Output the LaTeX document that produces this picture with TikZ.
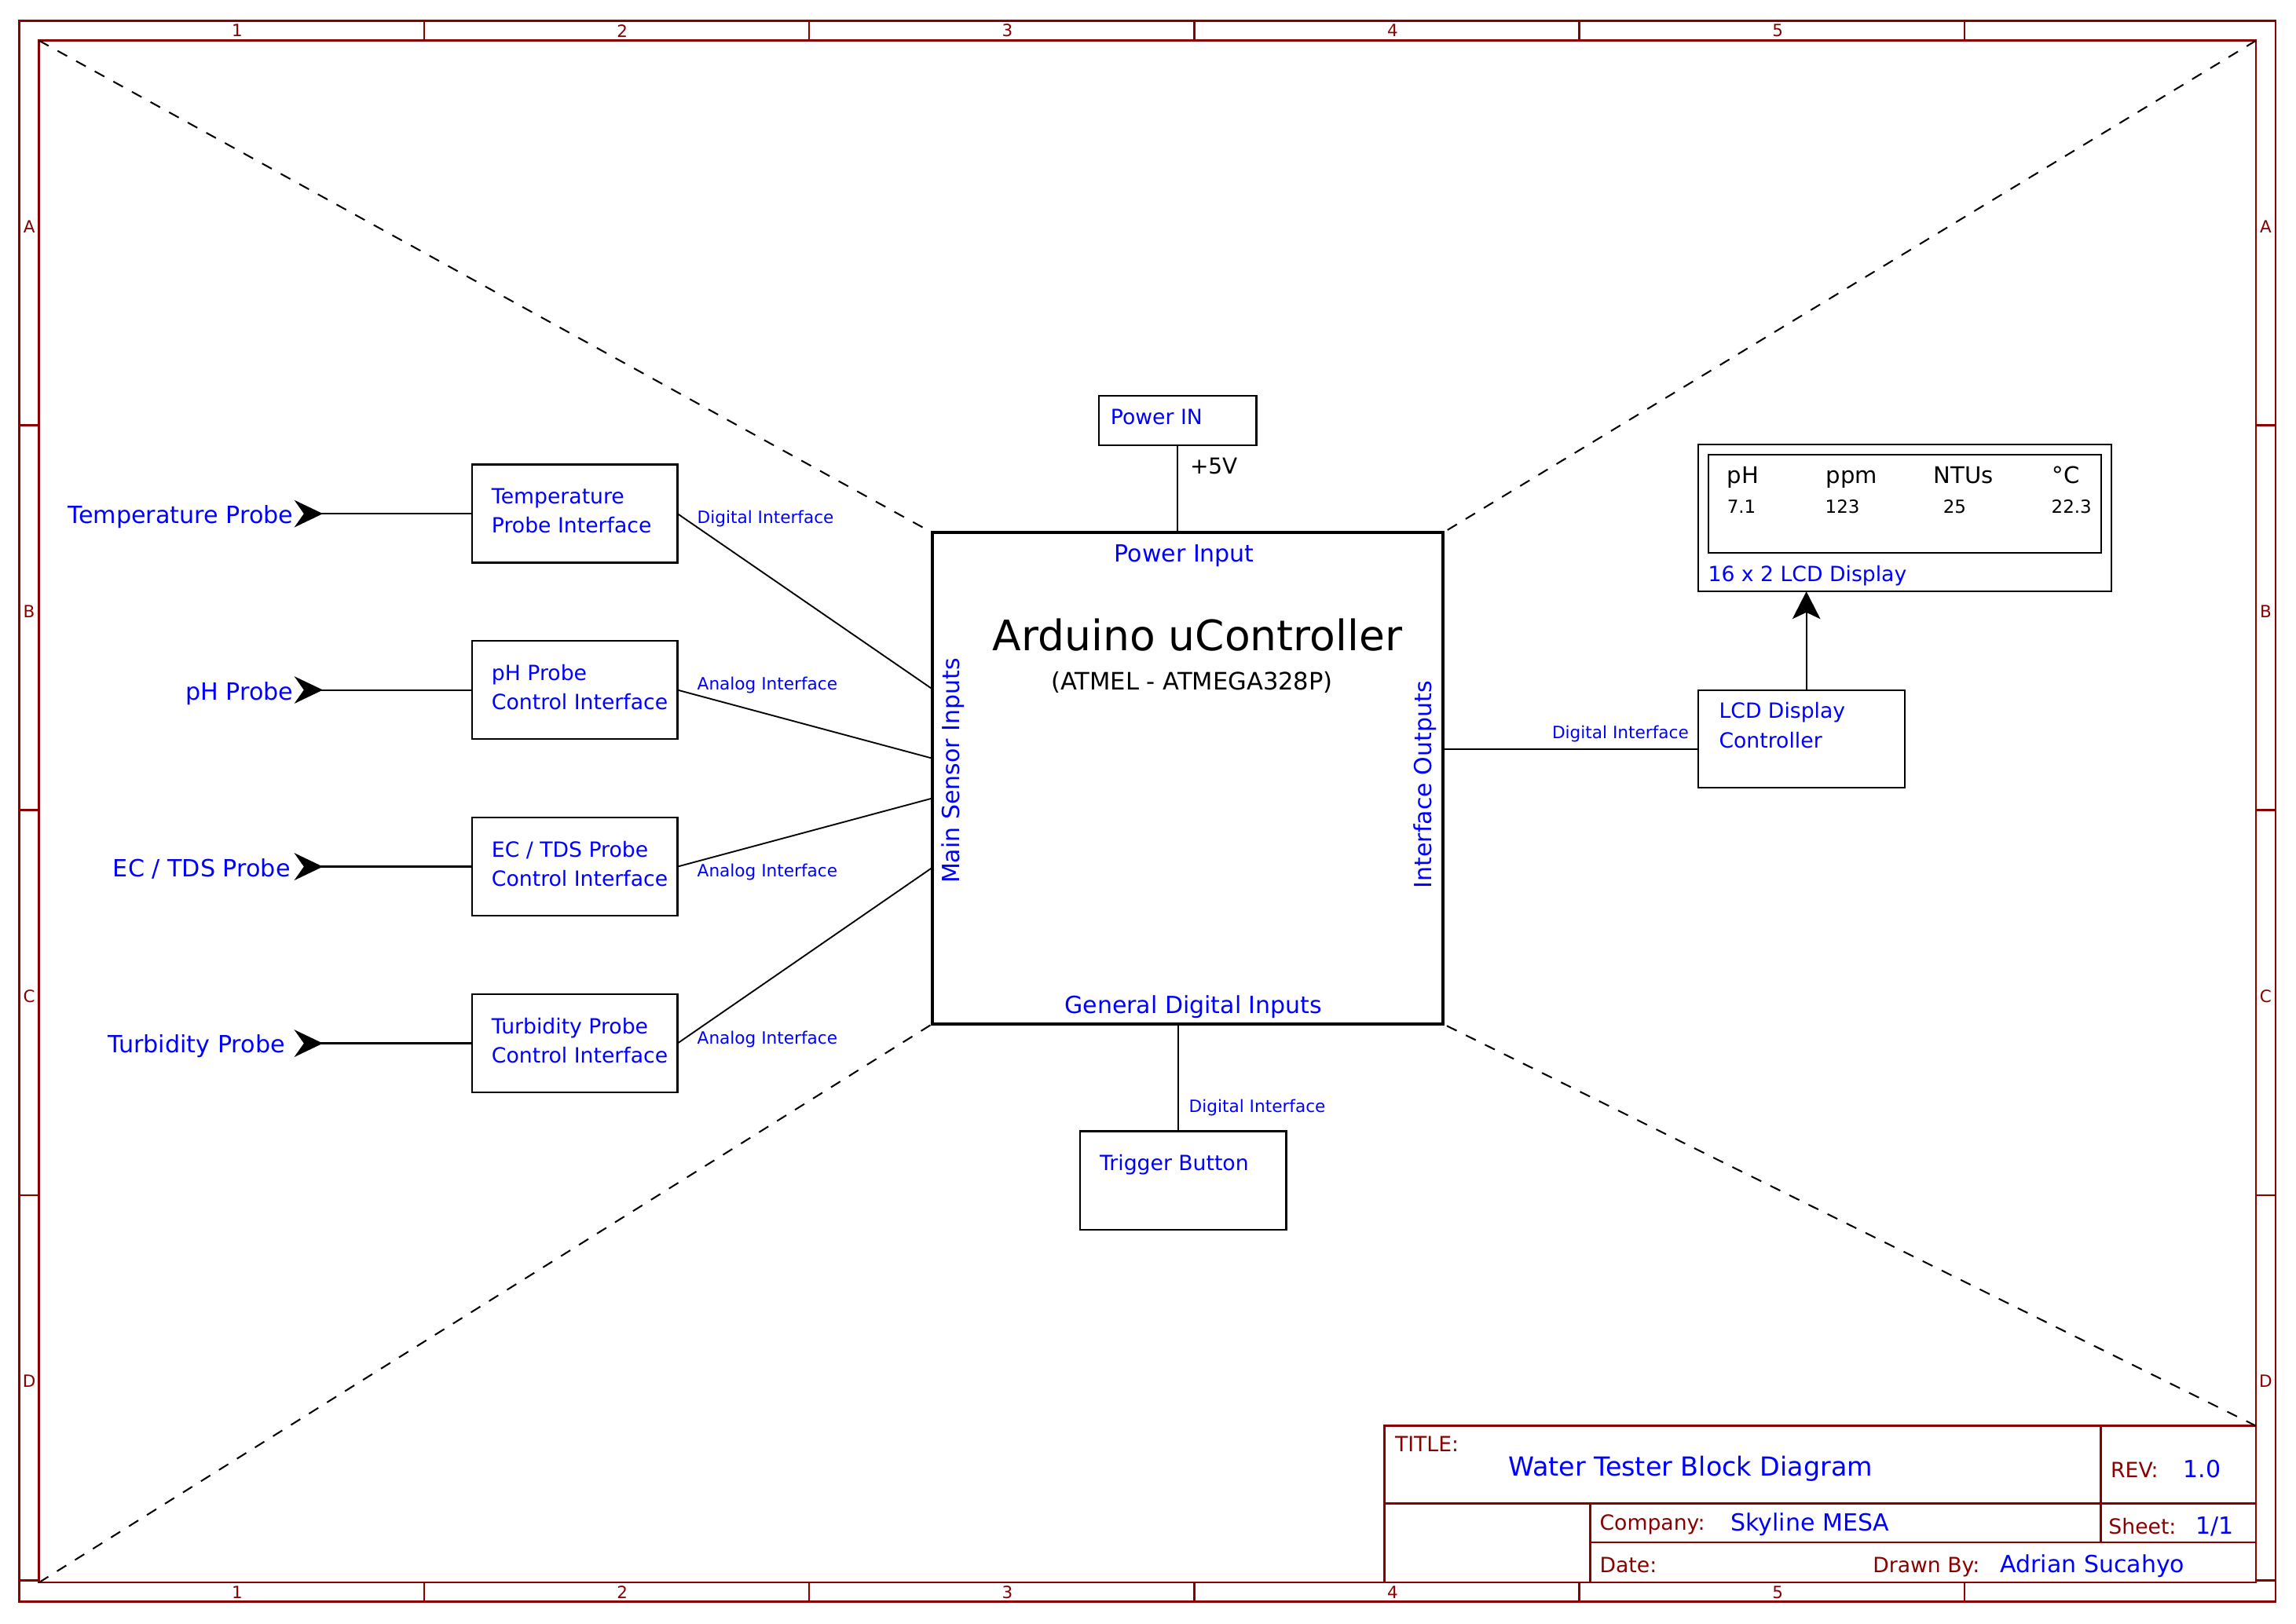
\documentclass[tikz,border=0pt]{standalone}
\usepackage{fontspec}
\setmainfont{DejaVu Sans}
\usetikzlibrary{arrows.meta}
\definecolor{framered}{RGB}{136,0,0}
\definecolor{txtblue}{RGB}{0,0,255}
\begin{document}
\begin{tikzpicture}[x=1pt,y=-1pt,
  every node/.style={inner sep=0pt, outer sep=0pt},
  fr/.style={draw=framered, line width=1.4pt},
  frlbl/.style={text=framered, font=\fontsize{11.5}{11.5}\selectfont},
  tbl/.style={text=framered, font=\fontsize{14.3}{14.3}\selectfont, anchor=base west},
  tbv/.style={text=txtblue, font=\fontsize{16.1}{16.1}\selectfont, anchor=base west},
  blk/.style={draw, line width=1.3pt, rectangle, anchor=north west},
  wire/.style={draw, line width=1pt},
  boldwire/.style={draw, line width=1.7pt},
  dashln/.style={draw, line width=1.1pt, dash pattern=on 7.5pt off 7pt},
  boxtxt/.style={text=txtblue, font=\fontsize{14.3}{14.3}\selectfont, anchor=base west},
  iflbl/.style={text=txtblue, font=\fontsize{11.6}{11.6}\selectfont, anchor=base west},
  probelbl/.style={text=txtblue, font=\fontsize{16.2}{16.2}\selectfont, anchor=base east},
  portlbl/.style={text=txtblue, font=\fontsize{16.1}{16.1}\selectfont},
  lcdhead/.style={font=\fontsize{15.6}{15.6}\selectfont, anchor=base west},
  lcdval/.style={font=\fontsize{12.3}{12.3}\selectfont, anchor=base west},
  probetip/.style={{Stealth[reversed,length=19.5pt,width=18.6pt,inset=6.5pt]}-},
]
\useasboundingbox (0,0) rectangle (1568,1109.3);

% ---------------- frame ----------------
\coordinate (oNW) at (13.2,14.3);
\coordinate (oSE) at (1554,1094);
\coordinate (iNW) at (26.6,27.7);
\coordinate (iNE) at (1540.7,27.7);
\coordinate (iSW) at (26.6,1081);
\coordinate (iSE) at (1540.7,1081);
\coordinate (tbNW) at (945.5,974);
\coordinate (tbNE) at (1540.7,974);
\draw[fr] (oNW) rectangle (oSE);
\draw[fr] (iNW) rectangle (iSE);
\foreach \x in {289.6,552.6,815.6,1078.6,1341.6} {
  \draw[fr] (\x,14.3) -- (\x,27.7);
  \draw[fr] (\x,1081) -- (\x,1094);
}
\foreach \y in {290.4,553.4,816.4,1079.4} {
  \draw[fr] (13.2,\y) -- (26.6,\y);
  \draw[fr] (1540.7,\y) -- (1554,\y);
}
\foreach \n in {1,...,5} {
  \node[frlbl] (ct\n) at ({162+263*(\n-1)},21) {\n};
  \node[frlbl] (cb\n) at ({162+263*(\n-1)},1087.8) {\n};
}
\foreach \l [count=\i from 0] in {A,B,C,D} {
  \node[frlbl] (rl\l) at (19.9,{154.6+263*\i}) {\l};
  \node[frlbl] (rr\l) at (1547.3,{154.6+263*\i}) {\l};
}

% ---------------- title block ----------------
\draw[fr] (tbNW) rectangle (iSE);
\draw[fr, line width=1.8pt] (945.5,1026.9) -- (1540.7,1026.9);
\draw[fr] (1434.7,974) -- (1434.7,1053.6);
\draw[fr] (1086,1053.6) -- (1540.7,1053.6);
\draw[fr] (1086,1026.9) -- (1086,1081);
\node[tbl] (tTitle) at (952.7,991.5) {TITLE:};
\node[tbv, font=\fontsize{17.9}{17.9}\selectfont] (tName) at (1030,1008.1) {Water Tester Block Diagram};
\node[tbl] (tRev) at (1441.5,1009.4) {REV:};
\node[tbv] (tRevV) at (1491,1009.4) {1.0};
\node[tbl] (tComp) at (1092.5,1045.1) {Company:};
\node[tbv] (tCompV) at (1182,1045.6) {Skyline MESA};
\node[tbl] (tSheet) at (1440,1047.8) {Sheet:};
\node[tbv] (tSheetV) at (1499.5,1047.8) {1/1};
\node[tbl] (tDate) at (1092.5,1074.3) {Date:};
\node[tbl] (tDrawn) at (1279,1074.3) {Drawn By:};
\node[tbv] (tDrawnV) at (1366,1074.3) {Adrian Sucahyo};

% ---------------- Arduino ----------------
\node[blk, line width=2.2pt, minimum width=349pt, minimum height=335.7pt] (ard) at (636.6,363.8) {};
\node[anchor=base, font=\fontsize{28.7}{28.7}\selectfont] (ardT) at (817.7,444.3) {Arduino uController};
\node[anchor=base, font=\fontsize{16.4}{16.4}\selectfont] (ardS) at (814,471.1) {(ATMEL - ATMEGA328P)};
\node[portlbl, anchor=base] (pin) at (808.8,383.6) {Power Input};
\node[portlbl, anchor=base] (gdi) at (815,692) {General Digital Inputs};
\node[portlbl, rotate=90] (msi) at (651,526.5) {Main Sensor Inputs};
\node[portlbl, rotate=90] (ifo) at (973.3,536) {Interface Outputs};

% dashed diagonals
\draw[dashln] (iNW) -- (ard.north west);
\draw[dashln] (iNE) -- (ard.north east);
\draw[dashln] (iSW) -- (ard.south west);
\draw[dashln] (tbNE) -- (ard.south east);

% ---------------- power ----------------
\node[blk, minimum width=107.4pt, minimum height=33.7pt] (pwr) at (750.6,270.3) {};
\node[boxtxt] (pwrT) at (758.5,290.2) {Power IN};
\draw[wire] (pwr.south) -- (pwr.south |- ard.north);
\node[anchor=base west, font=\fontsize{15}{15}\selectfont] (v5) at (812.7,323.6) {+5V};

% ---------------- trigger ----------------
\node[blk, minimum width=140.8pt, minimum height=67.1pt] (trig) at (737.6,772.8) {};
\coordinate (trigTop) at (804.6,772.8);
\draw[wire] (trigTop |- ard.south) -- (trigTop);
\node[boxtxt] (trigT) at (751,799.3) {Trigger Button};
\node[iflbl] (ifTrig) at (812,759.6) {Digital Interface};

% ---------------- LCD ----------------
\node[blk, minimum width=141.1pt, minimum height=66.5pt] (lcdc) at (1159.8,471.5) {};
\node[boxtxt] (lcdcT1) at (1174,490.8) {LCD Display};
\node[boxtxt] (lcdcT2) at (1174,511) {Controller};
\coordinate (ardR) at (985.6,511.6);
\draw[wire] (ardR) -- (ardR -| lcdc.west);
\node[iflbl] (ifLcd) at (1060,504.6) {Digital Interface};

\node[blk, minimum width=282.1pt, minimum height=100.4pt] (lcd) at (1159.8,303.6) {};
\node[blk, minimum width=268.4pt, minimum height=67pt] (lcdscr) at (1166.6,310.6) {};
\coordinate (lcdArr) at (1233.6,471.5);
\draw[wire, line width=1.2pt, -{Stealth[length=18.8pt,width=19.1pt,inset=4.5pt]}] (lcdArr) -- (lcdArr |- lcd.south);
\node[boxtxt] (lcdName) at (1166.5,397) {16 x 2 LCD Display};
\node[lcdhead] (hPH) at (1179.5,329.9) {pH};
\node[lcdhead] (hPPM) at (1247,329.9) {ppm};
\node[lcdhead] (hNTU) at (1320.5,329.9) {NTUs};
\node[lcdhead] (hDEG) at (1401.5,329.9) {°C};
\node[lcdval] (vPH) at (1179.5,350.5) {7.1};
\node[lcdval] (vPPM) at (1246.5,350.5) {123};
\node[lcdval] (vNTU) at (1327,350.5) {25};
\node[lcdval] (vDEG) at (1401,350.5) {22.3};

% ---------------- probe interfaces ----------------
\node[blk, minimum width=140.4pt, minimum height=67pt] (tbox) at (322.3,317.4) {};
\node[blk, minimum width=140.4pt, minimum height=67pt] (pbox) at (322.3,437.8) {};
\node[blk, minimum width=140.4pt, minimum height=67pt] (ebox) at (322.3,558.5) {};
\node[blk, minimum width=140.4pt, minimum height=67pt] (ubox) at (322.3,679.2) {};
\node[boxtxt] (tboxT1) at (335.8,344.2) {Temperature};
\node[boxtxt] (tboxT2) at (335.8,364.0) {Probe Interface};
\node[boxtxt] (pboxT1) at (335.8,464.6) {pH Probe};
\node[boxtxt] (pboxT2) at (335.8,484.6) {Control Interface};
\node[boxtxt] (eboxT1) at (335.8,585.3) {EC / TDS Probe};
\node[boxtxt] (eboxT2) at (335.8,605.3) {Control Interface};
\node[boxtxt] (uboxT1) at (335.8,706.0) {Turbidity Probe};
\node[boxtxt] (uboxT2) at (335.8,726.0) {Control Interface};

% connectors to Arduino
\coordinate (a1) at (636.6,470.6);
\coordinate (a2) at (636.6,518);
\coordinate (a3) at (636.6,545.3);
\coordinate (a4) at (636.6,592.7);
\draw[wire] (tbox.east) -- (a1);
\draw[wire] (pbox.east) -- (a2);
\draw[wire] (ebox.east) -- (a3);
\draw[wire] (ubox.east) -- (a4);
\node[iflbl] (if1) at (476.2,357.3) {Digital Interface};
\node[iflbl] (if2) at (476.2,471.5) {Analog Interface};
\node[iflbl] (if3) at (476.2,598.7) {Analog Interface};
\node[iflbl] (if4) at (476.2,713) {Analog Interface};

% probes
\coordinate (pT) at (201,350.9);
\coordinate (pP) at (201,471.3);
\coordinate (pE) at (201,592);
\coordinate (pU) at (201,712.7);
\draw[wire, probetip] (pT) -- (tbox.west);
\draw[wire, probetip] (pP) -- (pbox.west);
\draw[boldwire, probetip] (pE) -- (ebox.west);
\draw[boldwire, probetip] (pU) -- (ubox.west);
\node[probelbl] (lT) at (200.3,357.3) {Temperature Probe};
\node[probelbl] (lP) at (200.3,478.3) {pH Probe};
\node[probelbl] (lE) at (198.3,598.7) {EC / TDS Probe};
\node[probelbl] (lU) at (194.6,719.2) {Turbidity Probe};
\end{tikzpicture}
\end{document}
